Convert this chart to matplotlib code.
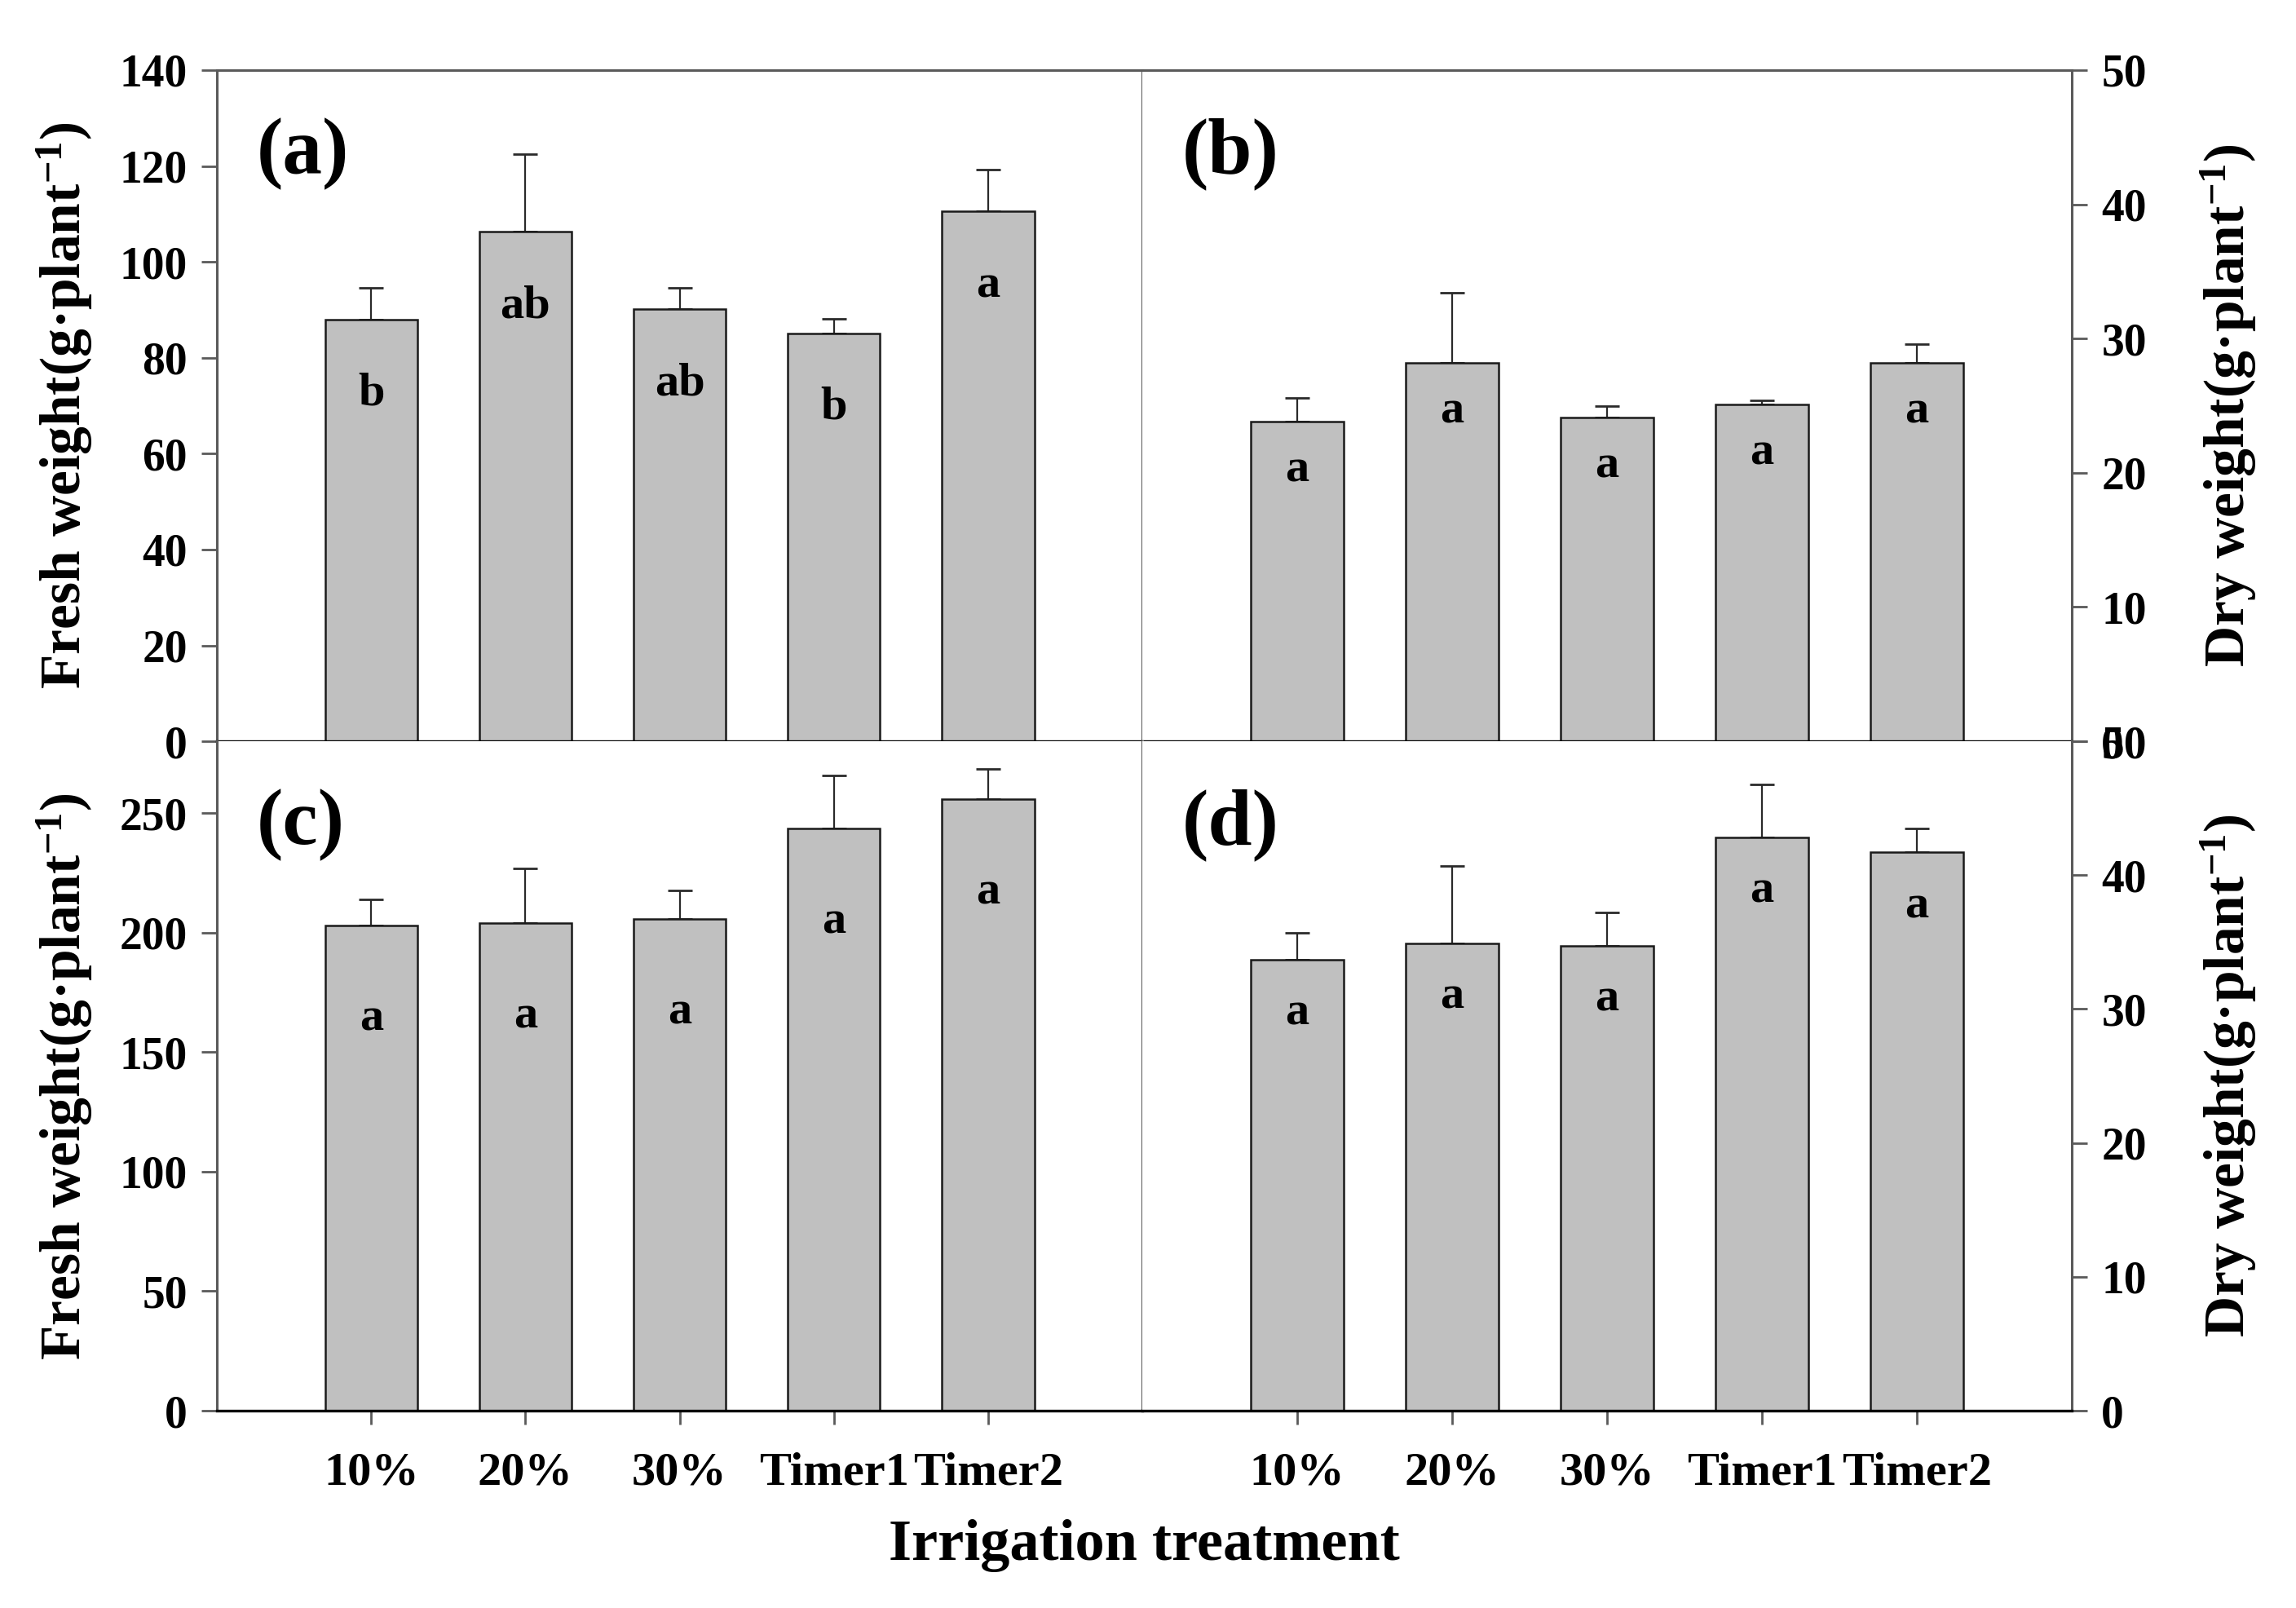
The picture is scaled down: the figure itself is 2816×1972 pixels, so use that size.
import matplotlib
matplotlib.use('Agg')
import matplotlib.pyplot as plt
import numpy as np

plt.rcParams['font.family'] = ['Liberation Serif', 'DejaVu Serif']
plt.rcParams['font.weight'] = 'bold'
plt.rcParams['mathtext.fontset'] = 'custom'
plt.rcParams['mathtext.rm'] = 'Liberation Serif:bold'
plt.rcParams['mathtext.default'] = 'rm'

categories = ['10%', '20%', '30%', 'Timer1', 'Timer2']

# (a) fresh weight, top row
fresh_a = [88.0, 106.3, 90.1, 85.1, 110.5]
fresh_a_err = [6.5, 16.2, 4.4, 3.0, 8.8]
letters_a = ['b', 'ab', 'ab', 'b', 'a']

# (b) dry weight, top row
dry_b = [23.8, 28.2, 24.1, 25.1, 28.2]
dry_b_err = [1.8, 5.2, 0.9, 0.3, 1.4]
letters_b = ['a', 'a', 'a', 'a', 'a']

# (c) fresh weight, bottom row
fresh_c = [202.8, 204.0, 205.6, 243.5, 255.8]
fresh_c_err = [11.2, 22.7, 12.1, 22.3, 12.8]
letters_c = ['a', 'a', 'a', 'a', 'a']

# (d) dry weight, bottom row
dry_d = [33.7, 34.9, 34.7, 42.8, 41.7]
dry_d_err = [2.0, 5.8, 2.5, 3.95, 1.8]
letters_d = ['a', 'a', 'a', 'a', 'a']

GRAY = '#5a5a5a'
fig = plt.figure(figsize=(28.16, 19.72), dpi=100)

L, M, R = 0.0945, 0.4975, 0.9024
T, MID, B = 0.9564, 0.539, 0.1227

ax_a = fig.add_axes([L, MID, M - L, T - MID])
ax_b = fig.add_axes([M, MID, R - M, T - MID])
ax_c = fig.add_axes([L, B, M - L, MID - B])
ax_d = fig.add_axes([M, B, R - M, MID - B])

panels = [
    (ax_a, fresh_a, fresh_a_err, letters_a, (0, 140), np.arange(0, 141, 20), '(a)', 15.5),
    (ax_b, dry_b, dry_b_err, letters_b, (0, 50), np.arange(0, 51, 10), '(b)', 3.6),
    (ax_c, fresh_c, fresh_c_err, letters_c, (0, 280), np.arange(0, 251, 50), '(c)', 39),
    (ax_d, dry_d, dry_d_err, letters_d, (0, 50), np.arange(0, 51, 10), '(d)', 4),
]

x = np.arange(len(categories))
for ax, vals, errs, lets, ylim, yticks, tag, off in panels:
    ax.bar(x, vals, width=0.6, color='#c0c0c0', edgecolor='#1a1a1a', linewidth=1.8, zorder=2)
    ax.errorbar(x, vals, yerr=[np.zeros(len(errs)), errs], fmt='none',
                ecolor='#2a2a2a', elinewidth=1.6, capsize=11, capthick=2.0, zorder=1)
    for xi, v, s in zip(x, vals, lets):
        ax.text(xi, v - off, s, ha='center', va='center', fontsize=42, fontweight='bold')
    ax.set_xlim(-1, 5)
    ax.set_ylim(*ylim)
    ax.set_yticks(yticks)
    ax.text(0.043, 0.875, tag, transform=ax.transAxes, fontsize=70, fontweight='bold',
            ha='left', va='center')
    for sp in ax.spines.values():
        sp.set_color(GRAY)
        sp.set_linewidth(2.2)
    ax.spines['bottom'].set_color('black')
    ax.spines['bottom'].set_linewidth(2.4)
    ax.tick_params(axis='y', direction='out', length=14, width=2.0, color=GRAY,
                   labelsize=40, pad=12)

# left panels: ticks on left, right spine forms the divider
for ax in (ax_a, ax_c):
    ax.yaxis.set_ticks_position('left')
    ax.set_ylabel("Fresh weight(g·plant$^{-1}$)", fontsize=50, fontweight='bold', labelpad=22)
# right panels: ticks on right
for ax in (ax_b, ax_d):
    ax.spines['left'].set_visible(False)
    ax.yaxis.set_ticks_position('right')
    ax.yaxis.set_label_position('right')
    ax.set_ylabel("Dry weight(g·plant$^{-1}$)", fontsize=50, fontweight='bold', labelpad=46)
for ax in (ax_c, ax_d):
    ax.spines['top'].set_visible(False)
    ax.set_xticks(x)
    ax.set_xticklabels(categories)
    ax.tick_params(axis='x', direction='out', length=12, width=2.0, color=GRAY,
                   labelsize=42, pad=24)
for ax in (ax_a, ax_b):
    ax.set_xticks([])

fig.text((L + R) / 2, 0.039, 'Irrigation treatment', ha='center', va='center',
         fontsize=52, fontweight='bold')

fig.savefig('out.png', dpi=100)
